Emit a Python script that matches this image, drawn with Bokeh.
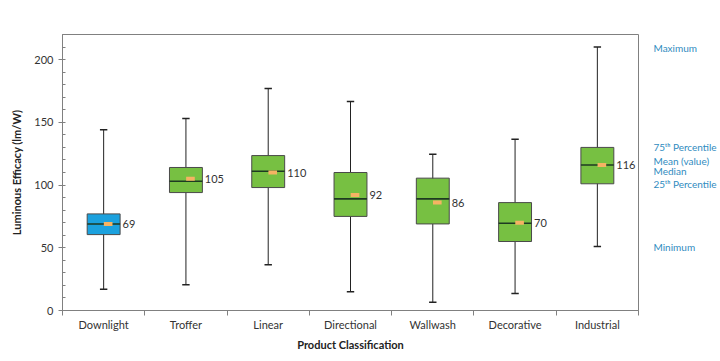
from bokeh.plotting import figure
from bokeh.models import FixedTicker, Range1d, ColumnDataSource, LinearAxis
from bokeh.core.properties import value
from bokeh.embed import file_html
from bokeh.resources import INLINE

categories = ["Downlight", "Troffer", "Linear", "Directional", "Wallwash", "Decorative", "Industrial"]
minimum = [17, 20.5, 36.5, 15, 6.5, 13.5, 51]
q1 = [60.5, 94, 98, 75, 69, 55, 101]
median = [69, 103, 111, 89, 89, 69.5, 116]
q3 = [77, 114, 123.5, 110, 105.5, 86, 130]
maximum = [144, 153, 177, 166.5, 124.5, 136.5, 210]
mean = [69, 105, 110, 92, 86, 70, 116]
colors = ["#1BA1DE", "#77C042", "#77C042", "#77C042", "#77C042", "#77C042", "#77C042"]

legend_texts = ["Maximum", "75ᵗʰ Percentile", "Mean (value)", "Median", "25ᵗʰ Percentile", "Minimum"]
legend_y = [209, 130, 119.5, 111.5, 101, 51]

FONT = "Lato"
n = len(categories)
xs = [i + 0.5 for i in range(n)]
bw = 0.4
cap = 0.045

src = ColumnDataSource(dict(
    x=xs, mn=minimum, q1=q1, med=median, q3=q3, mx=maximum, mean=mean, color=colors,
    left=[x - bw / 2 for x in xs], right=[x + bw / 2 for x in xs],
    cl=[x - cap for x in xs], cr=[x + cap for x in xs],
    mx_x=[x + 0.055 for x in xs],
    lx=[x + bw / 2 + 0.03 for x in xs], lab=[str(int(round(m))) for m in mean],
))

p = figure(frame_width=576, frame_height=276, output_backend="svg", toolbar_location=None,
           x_range=Range1d(0, n), y_range=Range1d(0, 220),
           min_border_left=62, min_border_right=82, min_border_top=34, min_border_bottom=51)
p.xgrid.visible = False
p.ygrid.visible = False
p.outline_line_color = "#808080"
p.outline_line_width = 1
p.background_fill_color = "white"
p.border_fill_color = "white"

# whiskers
p.segment(x0="x", y0="mn", x1="x", y1="mx", source=src, line_color="#222222", line_width=1)
p.segment(x0="cl", y0="mx", x1="cr", y1="mx", source=src, line_color="#222222", line_width=1.5)
p.segment(x0="cl", y0="mn", x1="cr", y1="mn", source=src, line_color="#222222", line_width=1.5)
# boxes
p.quad(left="left", right="right", bottom="q1", top="q3", source=src,
       fill_color="color", line_color="#4a4a4a", line_width=1)
# median
p.segment(x0="left", y0="med", x1="right", y1="med", source=src, line_color="#1e3a22", line_width=1.6)
# mean marker
p.rect(x="mx_x", y="mean", width=0.105, height=4, height_units="screen", source=src,
       fill_color="#F5B363", line_color=None)
# value labels
p.text(x="lx", y="mean", text="lab", source=src, text_font=value(FONT), text_font_size="11px",
       text_color="#333333", text_baseline="middle", text_align="left")

# x axis
xa = p.xaxis[0]
xa.ticker = FixedTicker(ticks=xs, minor_ticks=list(range(n + 1)))
xa.major_label_overrides = {x: c for x, c in zip(xs, categories)}
xa.major_tick_out = 0
xa.major_tick_in = 0
xa.minor_tick_out = 5
xa.minor_tick_in = 0
xa.axis_line_color = "#808080"
xa.minor_tick_line_color = "#808080"
xa.axis_label = "Product Classification"
xa.axis_label_text_font = FONT
xa.axis_label_text_font_style = "bold"
xa.axis_label_text_font_size = "11px"
xa.axis_label_text_color = "#222222"
xa.axis_label_standoff = 4
xa.major_label_text_font = FONT
xa.major_label_text_font_size = "11px"
xa.major_label_text_color = "#333333"
xa.major_label_standoff = 2

# y axis
ya = p.yaxis[0]
ya.ticker = FixedTicker(ticks=[0, 50, 100, 150, 200], minor_ticks=list(range(0, 221, 10)))
ya.major_tick_out = 4
ya.major_tick_in = 0
ya.minor_tick_out = 0
ya.minor_tick_in = 3
ya.axis_line_color = "#808080"
ya.major_tick_line_color = "#808080"
ya.minor_tick_line_color = "#808080"
ya.axis_label = "Luminous Efficacy (lm/W)"
ya.axis_label_text_font = FONT
ya.axis_label_text_font_style = "bold"
ya.axis_label_text_font_size = "11px"
ya.axis_label_text_color = "#222222"
ya.axis_label_standoff = 8
ya.major_label_text_font = FONT
ya.major_label_text_font_size = "11px"
ya.major_label_text_color = "#333333"
ya.major_label_standoff = 5

# right side key labels as an axis
ra = LinearAxis(ticker=FixedTicker(ticks=legend_y, minor_ticks=[]),
                major_label_overrides={y: t for y, t in zip(legend_y, legend_texts)})
ra.axis_line_color = None
ra.major_tick_line_color = None
ra.minor_tick_line_color = None
ra.major_tick_out = 0
ra.major_tick_in = 0
ra.major_label_standoff = 15
ra.major_label_text_font = FONT
ra.major_label_text_font_size = "10px"
ra.major_label_text_color = "#2F8BC0"
p.add_layout(ra, "right")

open("out.html", "w").write(file_html(p, INLINE))
